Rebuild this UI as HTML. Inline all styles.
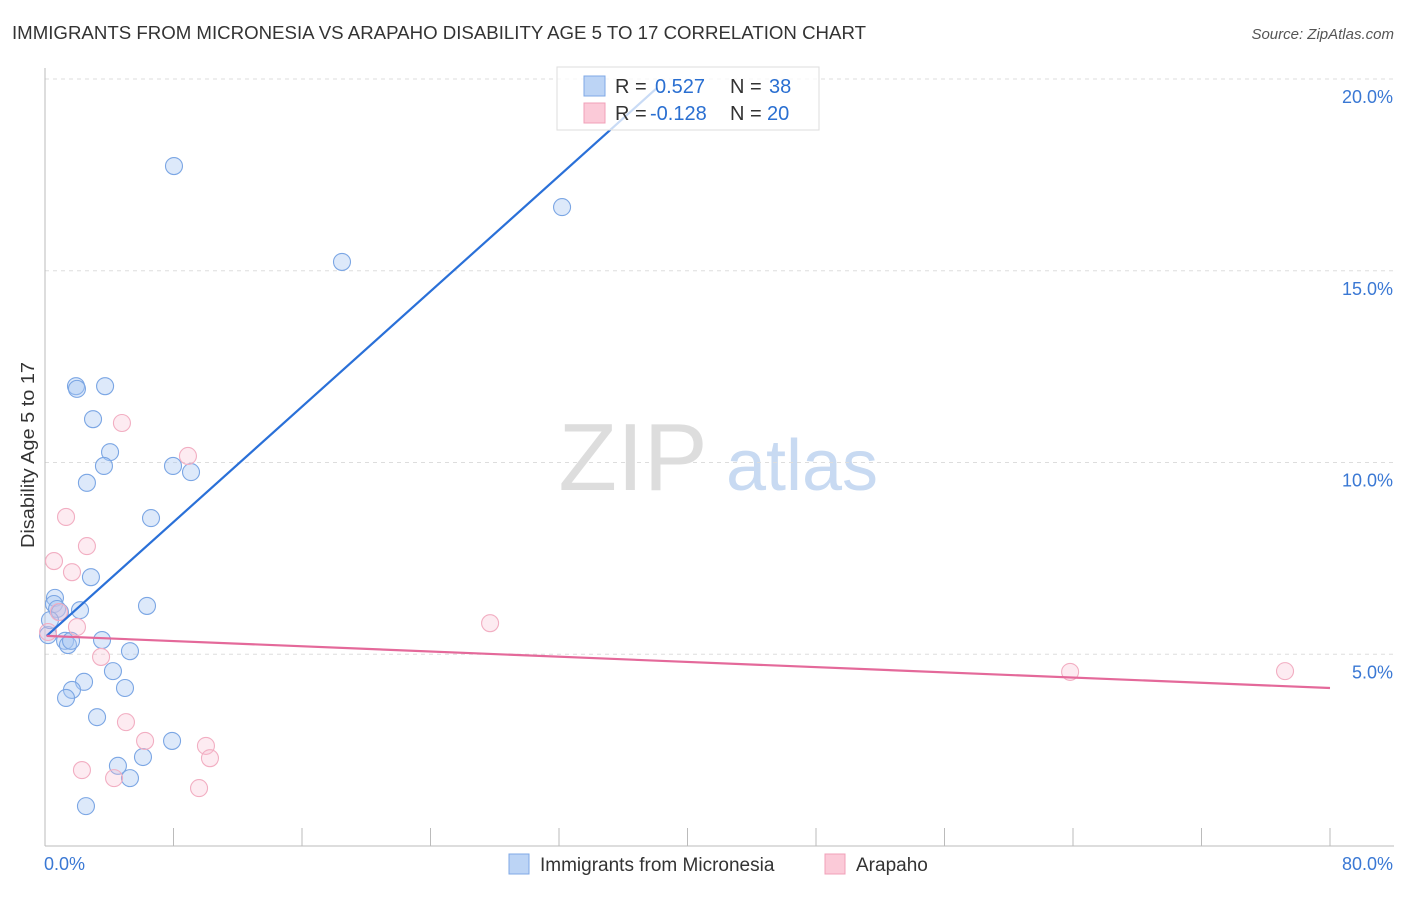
<!DOCTYPE html>
<html><head><meta charset="utf-8"><style>
body{margin:0;background:#fff;font-family:"Liberation Sans",sans-serif;}
svg text{font-family:"Liberation Sans",sans-serif;}
</style></head><body>
<svg id="chart" width="1406" height="892" xmlns="http://www.w3.org/2000/svg">
<text x="12" y="39" font-size="18.5" fill="#333" textLength="854" lengthAdjust="spacingAndGlyphs">IMMIGRANTS FROM MICRONESIA VS ARAPAHO DISABILITY AGE 5 TO 17 CORRELATION CHART</text>
<text x="1394" y="39" font-size="15" fill="#555" text-anchor="end" font-style="italic">Source: ZipAtlas.com</text>
<text transform="translate(34,455) rotate(-90)" font-size="18" fill="#333" text-anchor="middle" textLength="186" lengthAdjust="spacingAndGlyphs">Disability Age 5 to 17</text>
<g>
<text x="633" y="490" font-size="96" fill="#ddd" text-anchor="middle" font-family="Liberation Serif">ZIP</text>
<text x="802" y="490" font-size="72" fill="#c8daf2" text-anchor="middle">atlas</text>
</g>
<g id="grid"></g><g id="axes"></g><g id="pts"></g><g id="lines"></g>
<g>
<rect x="557" y="67" width="262" height="63" fill="rgba(255,255,255,0.75)" stroke="#ddd"/>
<rect x="584" y="76" width="21" height="20" fill="#bcd4f5" stroke="#7fa8e6"/>
<rect x="584" y="103" width="21" height="20" fill="#fbcad8" stroke="#f0a0b8"/>
<text x="615" y="93" font-size="20" fill="#333">R = </text><text x="655" y="93" font-size="20" fill="#2a6fd1">0.527</text>
<text x="730" y="93" font-size="20" fill="#333">N = </text><text x="769" y="93" font-size="20" fill="#2a6fd1">38</text>
<text x="615" y="120" font-size="20" fill="#333">R = </text><text x="650" y="120" font-size="20" fill="#2a6fd1">-0.128</text>
<text x="730" y="120" font-size="20" fill="#333">N = </text><text x="767" y="120" font-size="20" fill="#2a6fd1">20</text>
</g>
<g>
<rect x="509" y="854" width="20" height="20" fill="#bcd4f5" stroke="#7fa8e6"/>
<text x="540" y="871" font-size="19" fill="#333">Immigrants from Micronesia</text>
<rect x="825" y="854" width="20" height="20" fill="#fbcad8" stroke="#f0a0b8"/>
<text x="856" y="871" font-size="19" fill="#333">Arapaho</text>
</g>
</svg>
<script>
const blueX=[8.03,32.19,18.49,1.93,1.99,3.74,2.99,4.05,3.67,7.97,9.09,2.61,6.60,2.86,0.62,0.56,0.75,0.93,2.18,6.35,0.19,1.25,1.43,1.62,3.55,5.29,4.23,2.43,1.68,1.31,4.98,3.24,7.91,6.10,4.54,5.29,2.55,0.31];
const blueY=[17.73,16.66,15.23,11.99,11.92,11.99,11.13,10.27,9.91,9.91,9.75,9.47,8.55,7.01,6.47,6.31,6.18,6.10,6.15,6.26,5.50,5.35,5.24,5.35,5.37,5.08,4.56,4.28,4.07,3.86,4.12,3.36,2.74,2.32,2.09,1.77,1.04,5.89];
const pinkX=[4.79,8.90,1.31,2.61,0.56,1.68,1.99,0.19,0.87,27.71,3.49,5.04,6.23,10.02,10.27,2.30,4.30,9.59,63.82,77.2];
const pinkY=[11.03,10.17,8.58,7.82,7.43,7.14,5.71,5.58,6.10,5.81,4.93,3.23,2.74,2.61,2.29,1.98,1.77,1.51,4.54,4.56];
const yTicks=[5,10,15,20];
const yTickLabels=["5.0%","10.0%","15.0%","20.0%"];
const xTicks=[0,8,16,24,32,40,48,56,64,72,80];
const blueTrend=[5.44,0.376,0.1,38.1];
const pinkTrend=[5.48,-0.017,0.1,80];
const NS="http://www.w3.org/2000/svg";
const X=v=>45+v/80*1285, Y=v=>846-v*38.35;
function mk(t,a,p){const e=document.createElementNS(NS,t);for(const k in a)e.setAttribute(k,a[k]);p.appendChild(e);return e;}
const grid=document.getElementById('grid'),axes=document.getElementById('axes'),pts=document.getElementById('pts'),lines=document.getElementById('lines');
yTicks.forEach((t,i)=>{
 const l=mk('line',{x1:45,x2:1394,y1:Y(t),y2:Y(t),stroke:'#ddd','stroke-dasharray':'4,4'},grid);
 
 
 const tx=mk('text',{x:1393,y:Y(t)+24,'font-size':18,fill:'#3a78d4','text-anchor':'end'},axes);
 tx.textContent=yTickLabels[i];
 
 
});
const ax=mk('line',{x1:45,x2:45,y1:68,y2:846,stroke:'#bbb'},axes);


const bx=mk('line',{x1:45,x2:1394,y1:846,y2:846,stroke:'#bbb'},axes);


xTicks.forEach(t=>{
 const l=mk('line',{x1:X(t),x2:X(t),y1:828,y2:846,stroke:'#bbb'},axes);
 
 
});
const xl0=mk('text',{x:44,y:870,'font-size':18,fill:'#3a78d4'},axes);xl0.textContent='0.0%';


const xl1=mk('text',{x:1393,y:870,'font-size':18,fill:'#3a78d4','text-anchor':'end'},axes);xl1.textContent='80.0%';


blueX.forEach((v,i)=>{
 const c=mk('circle',{cx:X(v),cy:Y(blueY[i]),r:8.5,fill:'rgba(170,200,242,0.4)',stroke:'#7ba6e4','stroke-width':1.1},pts);
 
 
});
pinkX.forEach((v,i)=>{
 const c=mk('circle',{cx:X(v),cy:Y(pinkY[i]),r:8.5,fill:'rgba(248,190,208,0.3)',stroke:'#f2aec2','stroke-width':1.1},pts);
 
 
});
[[blueTrend,'#2a70d8','micronesia-trend-line'],[pinkTrend,'#e4699a','arapaho-trend-line']].forEach(([t,col,n])=>{
 const l=mk('line',{x1:X(t[2]),y1:Y(t[0]+t[1]*t[2]),x2:X(t[3]),y2:Y(t[0]+t[1]*t[3]),stroke:col,'stroke-width':2.2},lines);
 
 
});
</script>
</body></html>
